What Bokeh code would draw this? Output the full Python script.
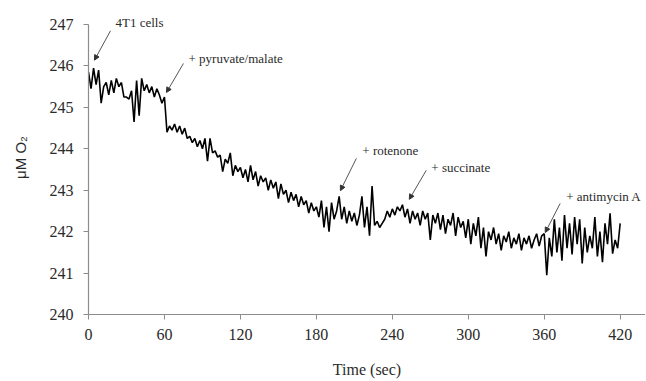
from bokeh.plotting import figure
from bokeh.models import Range1d, FixedTicker, Label, Arrow, NormalHead
from bokeh.embed import file_html
from bokeh.resources import INLINE

time_s = list(range(0, 421, 2))
o2_um = [
    245.85, 245.45, 245.95, 245.55, 245.9, 245.1, 245.5, 245.6, 245.3, 245.65,
    245.35, 245.7, 245.5, 245.6, 245.25, 245.25, 245.2, 245.4, 244.65, 245.65,
    244.8, 245.7, 245.4, 245.55, 245.35, 245.5, 245.25, 245.45, 245.3, 245.1,
    245.25, 244.4, 244.55, 244.45, 244.6, 244.4, 244.55, 244.35, 244.5, 244.25,
    244.3, 244.15, 244.25, 244.05, 244.2, 244.0, 244.25, 243.7, 244.25, 243.9,
    243.95, 243.8, 243.85, 243.45, 243.75, 243.65, 243.9, 243.35, 243.6, 243.45,
    243.55, 243.3, 243.5, 243.2, 243.6, 243.25, 243.45, 243.1, 243.35, 243.2,
    243.3, 243.0, 243.25, 243.05, 243.2, 242.8, 243.15, 242.9, 243.0, 242.7,
    242.95, 242.75, 242.9, 242.6, 242.85, 242.65, 242.75, 242.45, 242.7, 242.5,
    242.6, 242.35, 242.75, 242.1, 242.6, 242.0, 242.7, 242.3, 242.5, 242.85,
    242.3, 242.6, 242.2, 242.5, 242.25, 242.45, 242.15, 242.4, 242.85, 242.1,
    242.6, 241.9, 243.1, 242.15, 242.25, 242.1, 242.2, 242.3, 242.5, 242.35,
    242.55, 242.4, 242.6, 242.5, 242.65, 242.35, 242.55, 242.2, 242.5, 242.3,
    242.45, 242.15, 242.5, 242.3, 242.45, 241.8, 242.4, 242.2, 242.45, 242.05,
    242.4, 241.95, 242.3, 242.15, 242.45, 241.9, 242.35, 242.1, 242.25, 241.85,
    242.3, 241.7, 242.2, 241.9, 242.35, 241.6, 242.1, 241.4, 242.0, 241.8,
    242.1, 241.7, 241.95, 241.55, 241.9, 241.75, 242.0, 241.6, 241.85, 241.7,
    241.95, 241.55, 241.85, 241.7, 241.9, 241.6, 241.8, 241.95, 241.65, 241.9,
    241.95, 240.95, 241.85, 241.4, 242.3, 241.5, 242.1, 241.3, 242.4, 241.6,
    242.2, 241.45, 242.35, 241.7, 242.3, 241.23, 242.1, 241.5, 241.9, 241.6,
    242.35, 241.4, 242.0, 241.26, 242.2, 241.7, 242.44, 241.47, 241.8, 241.6,
    242.2,
]

x_ticks = [0, 60, 120, 180, 240, 300, 360, 420]
y_ticks = [240, 241, 242, 243, 244, 245, 246, 247]

ann_text = ["4T1 cells", "+ pyruvate/malate", "+ rotenone", "+ succinate", "+ antimycin A"]
ann_text_x = [21.3, 79.0, 216.3, 270.8, 377.4]
ann_text_y = [247.05, 246.18, 243.96, 243.55, 242.85]
arrow_tail_x = [17.4, 75.0, 211.6, 266.8, 372.6]
arrow_tail_y = [246.85, 246.06, 243.77, 243.48, 242.68]
arrow_tip_x = [4.7, 61.6, 199.0, 253.4, 360.8]
arrow_tip_y = [246.14, 245.36, 242.99, 242.78, 241.98]

SERIF = "Liberation Serif"

p = figure(frame_width=557, frame_height=314, output_backend="svg", toolbar_location=None,
           x_range=Range1d(0, 440), y_range=Range1d(240, 247.58),
           min_border_left=88, min_border_right=0, min_border_top=0, min_border_bottom=66)
p.outline_line_color = None
p.grid.visible = False
p.background_fill_color = "white"
p.border_fill_color = "white"

p.line(time_s, o2_um, line_color="black", line_width=1.6)

for ax in (p.xaxis[0], p.yaxis[0]):
    ax.axis_line_color = "#8c8c8c"
    ax.axis_line_width = 1.2
    ax.major_tick_line_color = "#8c8c8c"
    ax.major_tick_in = 0
    ax.major_tick_out = 5
    ax.minor_tick_line_color = None
    ax.major_label_text_font = SERIF
    ax.major_label_text_font_size = "16px"
    ax.major_label_text_color = "#2a2a2a"
    ax.axis_label_text_font_style = "normal"
    ax.axis_label_text_color = "#2a2a2a"

p.xaxis.ticker = FixedTicker(ticks=x_ticks)
p.yaxis.ticker = FixedTicker(ticks=y_ticks)
p.yaxis.bounds = (240, 247)
p.xaxis.major_label_standoff = 9
p.yaxis.major_label_standoff = 10
p.xaxis.axis_label = "Time (sec)"
p.xaxis.axis_label_text_font = SERIF
p.xaxis.axis_label_text_font_size = "16px"
p.xaxis.axis_label_standoff = 18
p.yaxis.axis_label = "\u03bcM O\u2082"
p.yaxis.axis_label_text_font = "Liberation Sans"
p.yaxis.axis_label_text_font_size = "15px"
p.yaxis.axis_label_standoff = 18

for t, tx, ty, x0, y0, x1, y1 in zip(ann_text, ann_text_x, ann_text_y,
                                      arrow_tail_x, arrow_tail_y, arrow_tip_x, arrow_tip_y):
    p.add_layout(Label(x=tx, y=ty, text=t, text_font=SERIF, text_font_size="13px",
                       text_color="#2a2a2a", text_baseline="middle", text_align="left"))
    p.add_layout(Arrow(x_start=x0, y_start=y0, x_end=x1, y_end=y1,
                       line_color="#555555", line_width=1,
                       end=NormalHead(size=5, fill_color="#333333", line_color="#333333")))

open("out.html", "w").write(file_html(p, INLINE))
